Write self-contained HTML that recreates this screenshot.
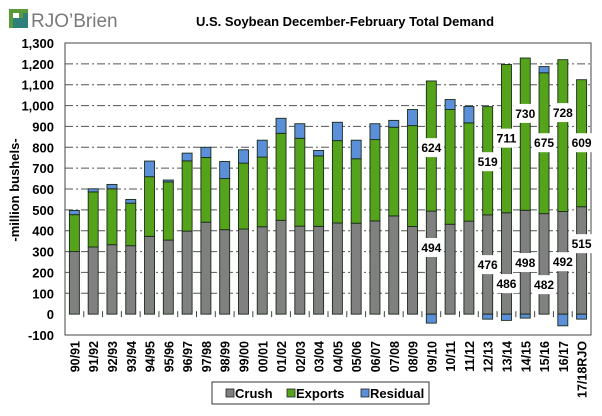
<!DOCTYPE html>
<html><head><meta charset="utf-8"><style>
body{margin:0;background:#fff;}
svg text{font-family:"Liberation Sans",Arial,sans-serif;}
</style></head><body>
<svg id="chart" width="602" height="411" viewBox="0 0 602 411" xmlns="http://www.w3.org/2000/svg">
<g>
<rect x="9" y="9" width="19" height="19" fill="#5a9a3a"/>
<path d="M13 28 L13 18 L23 18 L23 13 L28 13 L28 28 Z" fill="#2f7f7a"/>
<rect x="13" y="13" width="6" height="5" fill="#fff"/>
<text x="31" y="27" font-size="19" fill="#7a7a7a">RJO’Brien</text>
</g>
<text x="345" y="26" font-size="13" font-weight="bold" text-anchor="middle" fill="#000">U.S. Soybean December-February Total Demand</text>
<text transform="translate(19,190) rotate(-90)" font-size="13" font-weight="bold" text-anchor="middle">-million bushels-</text>
<g id="grid"></g><g id="bars"></g><g id="labels"></g>
<g>
<rect x="212" y="382" width="217" height="22" fill="#fff" stroke="#333"/>
<rect x="226" y="389" width="8" height="8" fill="#808080" stroke="#222" stroke-width="0.8"/>
<text x="235" y="398" font-size="13" font-weight="bold">Crush</text>
<rect x="287" y="389" width="8" height="8" fill="#55a31a" stroke="#222" stroke-width="0.8"/>
<text x="296" y="398" font-size="13" font-weight="bold">Exports</text>
<rect x="361" y="389" width="8" height="8" fill="#5b8fd8" stroke="#222" stroke-width="0.8"/>
<text x="370" y="398" font-size="13" font-weight="bold">Residual</text>
</g>
</svg>
<script>
const categories=["90/91","91/92","92/93","93/94","94/95","95/96","96/97","97/98","98/99","99/00","00/01","01/02","02/03","03/04","04/05","05/06","06/07","07/08","08/09","09/10","10/11","11/12","12/13","13/14","14/15","15/16","16/17","17/18RJO"];
const crush=[300,322,333,328,373,355,398,441,405,408,419,450,422,421,437,436,447,471,420,494,431,446,476,486,498,482,492,515];
const exportsV=[177,264,268,204,286,279,337,310,245,316,334,417,421,338,395,309,390,425,484,624,550,471,519,711,730,675,728,609];
const residual=[20,15,21,18,75,9,37,49,82,64,81,72,70,26,88,89,76,33,77,-43,48,79,-24,-30,-19,30,-56,-24];
const yTicks=[-100,0,100,200,300,400,500,600,700,800,900,1000,1100,1200,1300];
const labelIdx=[19,22,23,24,25,26,27];
const exportLabelShift=[-10,-7,0,97,0,108,0];
const crushLabelShift=[70,-3,-99,-4,-102,3,78];
</script>
<script>
const NS="http://www.w3.org/2000/svg";
const L=65,R=591,T=43,B=335,YMIN=-100,YMAX=1300;
const N=categories.length;
function x(i){return L+(R-L)/N*(i+0.5);}
function y(v){return B-(v-YMIN)/(YMAX-YMIN)*(B-T);}
function mk(tag,attrs,parent){const e=document.createElementNS(NS,tag);for(const k in attrs)e.setAttribute(k,attrs[k]);parent.appendChild(e);return e;}
const grid=document.getElementById('grid'),bars=document.getElementById('bars'),labs=document.getElementById('labels');
yTicks.forEach(function(v){
  if(v>YMIN&&v<YMAX&&v!==0){const g=mk('line',{x1:L,x2:R,y1:y(v),y2:y(v),stroke:'#555','stroke-width':1,'stroke-dasharray':'8,3,2,3'},grid);
  
  }
  const t=mk('text',{x:54,y:y(v)+5,'font-size':13,'font-weight':'bold','text-anchor':'end'},grid);
  t.textContent=v.toLocaleString('en-US');
  
  
});
const fr=mk('rect',{x:L,y:T,width:R-L,height:B-T,fill:'none',stroke:'#444','stroke-width':1},grid);


for(let i=0;i<=N;i++){mk('line',{x1:L+(R-L)/N*i,x2:L+(R-L)/N*i,y1:y(0)-3,y2:y(0)+3,stroke:'#444'},grid);}
const bw=10;
function bar(i,v0,v1,fill,name){
  const r=mk('rect',{x:x(i)-bw/2,y:Math.min(y(v0),y(v1)),width:bw,height:Math.abs(y(v1)-y(v0)),fill:fill,stroke:'#1a2a1a','stroke-width':0.9},bars);
  
  
}
for(let i=0;i<N;i++){
  bar(i,0,crush[i],'#808080','bar-crush-'+categories[i]);
  bar(i,crush[i],crush[i]+exportsV[i],'#55a31a','bar-exports-'+categories[i]);
  if(residual[i]>=0) bar(i,crush[i]+exportsV[i],crush[i]+exportsV[i]+residual[i],'#5b8fd8','bar-residual-'+categories[i]);
  else bar(i,0,residual[i],'#5b8fd8','bar-residual-'+categories[i]);
  const t=mk('text',{transform:'translate('+(x(i)+5)+','+(y(-100)+6)+') rotate(-90)','font-size':12.5,'font-weight':'bold','text-anchor':'end'},labs);
  t.textContent=categories[i];
  
  
}
function vlabel(i,v,val,name){
  const cy=y(v);
  const w=String(val).length*7+3;
  mk('rect',{x:x(i)-w/2,y:cy-10,width:w,height:19,fill:'#fff'},labs);
  const t=mk('text',{x:x(i),y:cy+4,'font-size':12,'font-weight':'bold','text-anchor':'middle',textLength:w-4,lengthAdjust:'spacingAndGlyphs'},labs);
  t.textContent=val;
  
  
}
labelIdx.forEach(function(i,k){
  vlabel(i,crush[i]+exportsV[i]/2+exportLabelShift[k],exportsV[i],'label-exports-'+categories[i]);
  vlabel(i,crush[i]/2+crushLabelShift[k],crush[i],'label-crush-'+categories[i]);
});
</script>
</body></html>
